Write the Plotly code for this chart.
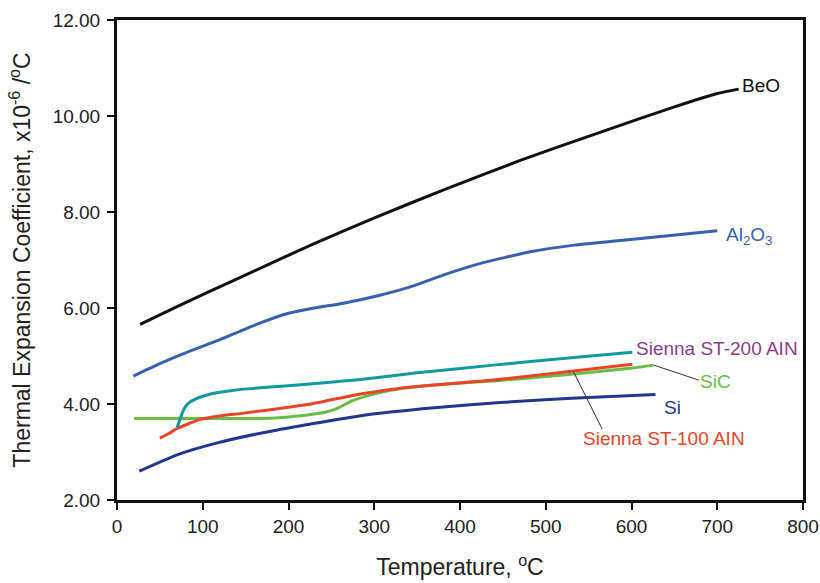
import numpy as np
import plotly.graph_objects as go

# ---- data ----
beo_t = [27, 70, 144, 226, 303, 381, 471, 565, 650, 700, 725]
beo_v = [5.66, 6.03, 6.64, 7.31, 7.90, 8.46, 9.08, 9.67, 10.19, 10.47, 10.56]

al2o3_t = [19, 50, 85, 120, 160, 200, 230, 264, 303, 342, 381, 424, 482, 533, 611, 700]
al2o3_v = [4.58, 4.84, 5.10, 5.34, 5.64, 5.89, 6.00, 6.10, 6.25, 6.44, 6.69, 6.93, 7.17, 7.31, 7.45, 7.61]

st200_t = [70, 73, 76, 80, 86, 95, 109, 130, 148, 200, 284, 350, 439, 520, 601]
st200_v = [3.51, 3.65, 3.81, 3.95, 4.05, 4.13, 4.21, 4.27, 4.31, 4.38, 4.51, 4.65, 4.81, 4.95, 5.08]

st100_t = [50, 60, 70, 85, 97, 120, 148, 226, 284, 331, 439, 520, 601]
st100_v = [3.29, 3.38, 3.49, 3.60, 3.68, 3.75, 3.81, 4.00, 4.21, 4.33, 4.50, 4.66, 4.83]

sic_t = [20, 100, 170, 200, 226, 245, 257, 272, 296, 331, 380, 439, 530, 601, 626]
sic_v = [3.70, 3.70, 3.70, 3.73, 3.78, 3.84, 3.91, 4.05, 4.19, 4.32, 4.41, 4.48, 4.62, 4.75, 4.81]

si_t = [26, 70, 117, 187, 290, 370, 447, 530, 628]
si_v = [2.60, 2.94, 3.19, 3.46, 3.77, 3.92, 4.03, 4.12, 4.20]

x_ticks = [0, 100, 200, 300, 400, 500, 600, 700, 800]
y_ticks = [2, 4, 6, 8, 10, 12]

FONT = "Liberation Sans, Arial, sans-serif"

series = [
    ("BeO", beo_t, beo_v, "#111111"),
    ("Al2O3", al2o3_t, al2o3_v, "#3a5fb0"),
    ("SiC", sic_t, sic_v, "#68bd4a"),
    ("Sienna ST-100 AIN", st100_t, st100_v, "#ea4327"),
    ("Sienna ST-200 AIN", st200_t, st200_v, "#11999e"),
    ("Si", si_t, si_v, "#243590"),
]

fig = go.Figure()
for name, t, v, c in series:
    fig.add_trace(go.Scatter(x=t, y=v, mode="lines", name=name,
                             line=dict(color=c, width=3, shape="spline", smoothing=0.5),
                             showlegend=False))

LAB = 19

def lab(text, x, y, color, xs, ys):
    fig.add_annotation(x=x, y=y, text=text, showarrow=False, xanchor="left",
                       yanchor="middle", xshift=xs, yshift=ys,
                       font=dict(family=FONT, size=LAB, color=color))

lab("BeO", beo_t[-1], beo_v[-1], "#111111", 1, 4)
lab("Al<sub>2</sub>O<sub>3</sub>", al2o3_t[-1], al2o3_v[-1], "#3a5fb0", 7, -5)
lab("Sienna ST-200 AIN", st200_t[-1], st200_v[-1], "#8a3d8e", 2, 4)
lab("SiC", sic_t[-1], sic_v[-1], "#68bd4a", 44, -16)
lab("Si", si_t[-1], si_v[-1], "#243590", 6, -13)
lab("Sienna ST-100 AIN", st100_t[-1], st100_v[-1], "#e5452a", -51, -74)

# leader lines (pixel-sized shapes anchored at data points)
def leader(x, y, dx, dy):
    fig.add_shape(type="line", xref="x", yref="y", xsizemode="pixel", ysizemode="pixel",
                  xanchor=x, yanchor=y, x0=0, y0=0, x1=dx, y1=dy,
                  line=dict(color="#333333", width=1))

leader(sic_t[-1], sic_v[-1], 45, -15)
p_t = 532
p_v = float(np.interp(p_t, st100_t, st100_v))
leader(p_t, p_v, 29, -58)

fig.update_layout(
    width=820, height=583,
    margin=dict(l=117, r=17, t=20, b=83),
    paper_bgcolor="white", plot_bgcolor="white",
    font=dict(family=FONT, color="#222222"),
)
fig.update_xaxes(
    range=[0, 800], tickvals=x_ticks, ticktext=[str(v) for v in x_ticks],
    automargin=False,
    showgrid=False, zeroline=False, showline=True, linecolor="#111111", linewidth=3,
    mirror=True, ticks="outside", ticklen=7, tickwidth=2, tickcolor="#111111",
    tickfont=dict(family=FONT, size=19, color="#222222"),
    title=dict(text="Temperature, <sup>o</sup>C", standoff=24,
               font=dict(family=FONT, size=23, color="#222222")),
)
fig.update_yaxes(
    range=[2, 12], tickvals=y_ticks, ticktext=[f"{v:.2f}" for v in y_ticks],
    automargin=False,
    showgrid=False, zeroline=False, showline=True, linecolor="#111111", linewidth=3,
    mirror=True, ticks="outside", ticklen=7, tickwidth=2, tickcolor="#111111",
    ticklabelstandoff=3,
    tickfont=dict(family=FONT, size=19, color="#222222"),
    title=dict(text="Thermal Expansion Coefficient, x10<sup>-6</sup> /<sup>o</sup>C",
               standoff=16, font=dict(family=FONT, size=23, color="#222222")),
)

fig.write_html("out.html", config={"displayModeBar": False},
               post_script="document.body.style.margin='0';")
